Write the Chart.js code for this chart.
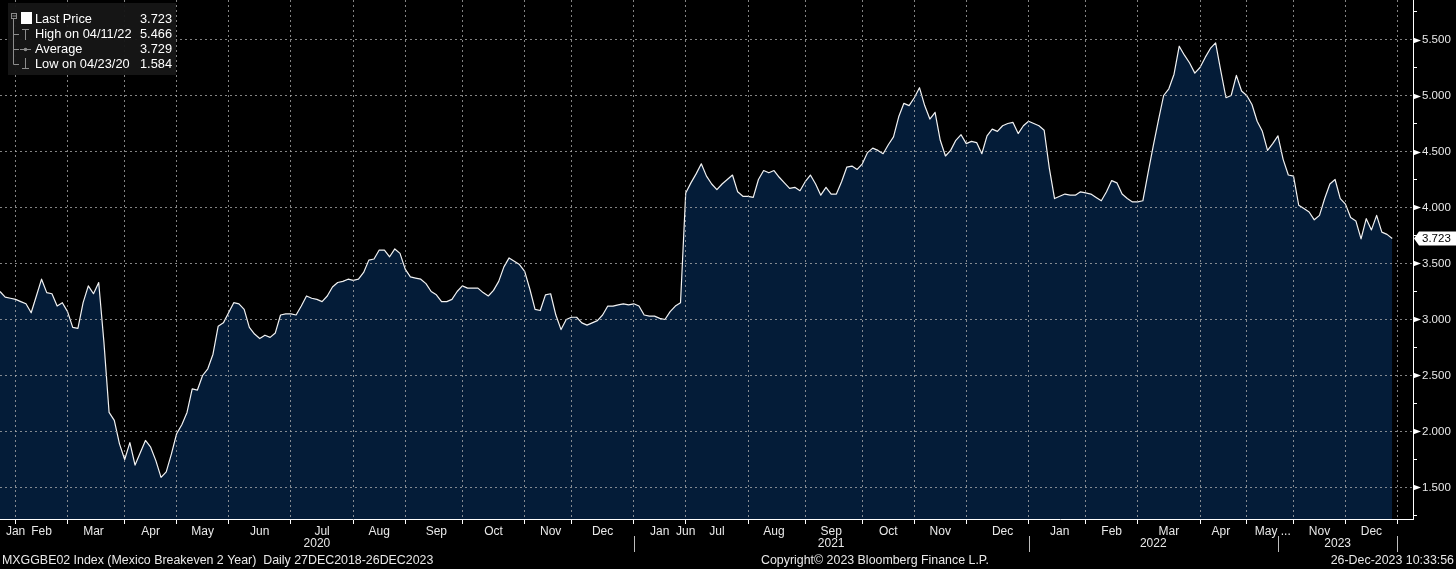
<!DOCTYPE html>
<html>
<head>
<meta charset="utf-8">
<script src="https://cdn.jsdelivr.net/npm/chart.js@4.4.1/dist/chart.umd.min.js"></script>
<style>
  html, body { margin: 0; padding: 0; background: #000; }
  #wrap { width: 1456px; height: 569px; position: relative; }
</style>
</head>
<body>
<div id="wrap"><canvas id="myChart"></canvas></div>
<script>
// MXGGBE02 Index, sampled roughly every 2 trading days (gaps in the series are collapsed, as on the terminal)
const values = [
  3.25, 3.20, 3.19, 3.18, 3.16, 3.14, 3.06, 3.21, 3.36, 3.24,
  3.23, 3.12, 3.15, 3.07, 2.93, 2.92, 3.15, 3.30, 3.23, 3.33,
  2.80, 2.17, 2.10, 1.89, 1.75, 1.90, 1.70, 1.81, 1.92, 1.86,
  1.74, 1.59, 1.64, 1.80, 1.98, 2.06, 2.17, 2.38, 2.37, 2.50,
  2.56, 2.69, 2.94, 2.97, 3.06, 3.15, 3.14, 3.09, 2.93, 2.87,
  2.83, 2.86, 2.84, 2.88, 3.04, 3.05, 3.05, 3.04, 3.12, 3.21,
  3.19, 3.18, 3.16, 3.21, 3.29, 3.33, 3.34, 3.36, 3.35, 3.36,
  3.42, 3.53, 3.54, 3.62, 3.62, 3.56, 3.63, 3.59, 3.45, 3.38,
  3.37, 3.36, 3.32, 3.25, 3.22, 3.16, 3.16, 3.18, 3.25, 3.30,
  3.28, 3.28, 3.28, 3.24, 3.21, 3.26, 3.34, 3.47, 3.55, 3.52,
  3.49, 3.43, 3.27, 3.09, 3.08, 3.22, 3.23, 3.04, 2.91, 3.00,
  3.02, 3.02, 2.97, 2.95, 2.97, 2.99, 3.04, 3.12, 3.12, 3.13,
  3.14, 3.13, 3.14, 3.12, 3.04, 3.03, 3.03, 3.01, 3.00, 3.07,
  3.12, 3.15, 4.13, 4.22, 4.30, 4.39, 4.28, 4.21, 4.16, 4.21,
  4.25, 4.29, 4.14, 4.10, 4.10, 4.09, 4.25, 4.33, 4.31, 4.33,
  4.27, 4.22, 4.17, 4.18, 4.15, 4.23, 4.29, 4.21, 4.11, 4.18,
  4.12, 4.12, 4.23, 4.36, 4.37, 4.34, 4.39, 4.49, 4.53, 4.51,
  4.48, 4.56, 4.63, 4.81, 4.93, 4.91, 4.98, 5.07, 4.91, 4.79,
  4.85, 4.60, 4.46, 4.51, 4.60, 4.65, 4.57, 4.59, 4.58, 4.48,
  4.64, 4.70, 4.68, 4.73, 4.75, 4.76, 4.66, 4.73, 4.77, 4.75,
  4.73, 4.69, 4.35, 4.08, 4.10, 4.12, 4.11, 4.11, 4.14, 4.13,
  4.12, 4.09, 4.06, 4.14, 4.24, 4.22, 4.12, 4.08, 4.05, 4.05,
  4.06, 4.31, 4.55, 4.78, 5.00, 5.06, 5.19, 5.44, 5.36, 5.29,
  5.20, 5.25, 5.34, 5.42, 5.47, 5.22, 4.98, 5.00, 5.18, 5.04,
  5.00, 4.92, 4.77, 4.68, 4.51, 4.57, 4.64, 4.43, 4.29, 4.28,
  4.02, 3.99, 3.96, 3.89, 3.93, 4.08, 4.21, 4.25, 4.08, 4.03,
  3.91, 3.88, 3.72, 3.90, 3.80, 3.93, 3.78, 3.76, 3.723
];
const sampleCount = 273; // axis runs a little past the last print

// month labels and the sample index they sit on
const monthNames = ['Jan','Feb','Mar','Apr','May','Jun','Jul','Aug','Sep','Oct','Nov','Dec',
                    'Jan','Jun','Jul','Aug','Sep','Oct','Nov','Dec',
                    'Jan','Feb','Mar','Apr','May ...','Nov','Dec'];
const monthLabelIdx = [3, 8, 18, 29, 39, 50, 62, 73, 84, 95, 106, 116,
                       127, 132, 138, 149, 160, 171, 181, 193,
                       204, 214, 225, 235, 245, 254, 264];
// month boundaries (dotted grid lines)
const monthEdgeIdx = [3, 13, 24, 34, 44, 56, 68, 78, 89, 101, 110, 122,
                      132, 144, 155, 166, 176, 186, 198,
                      209, 219, 231, 240, 249, 259, 269];
const yearNames = ['2020', '2021', '2022', '2023'];
const yearEdgeIdx = [0, 122, 198, 246, 269];

const yTicks = [1.25, 1.5, 1.75, 2, 2.25, 2.5, 2.75, 3, 3.25, 3.5, 3.75, 4, 4.25, 4.5, 4.75, 5, 5.25, 5.5, 5.75];

const legendLabels = ['Last Price', 'High on 04/11/22', 'Average', 'Low on 04/23/20'];
const legendValues = ['3.723', '5.466', '3.729', '1.584'];

const FONT = "'Liberation Sans', Arial, sans-serif";
const gridColor = 'rgba(175,175,175,0.75)';
const none = 'rgba(0,0,0,0)';
const edgeSet = new Set(monthEdgeIdx);
const monthAt = new Map(monthLabelIdx.map((k, j) => [k, monthNames[j]]));
const isMajor = v => Math.round(v * 100) % 50 === 0;

const labels = Array.from({length: sampleCount}, (_, i) => i);

const overlay = {
  id: 'overlay',
  afterDraw(chart) {
    const {ctx, chartArea: a, scales: {x, y}} = chart;
    ctx.save();

    // arrow heads on the major value ticks
    ctx.fillStyle = '#fff';
    yTicks.forEach(v => {
      if (!isMajor(v)) return;
      const py = Math.round(y.getPixelForValue(v)) + 0.5;
      ctx.beginPath();
      ctx.moveTo(a.right, py - 3);
      ctx.lineTo(a.right + 8, py);
      ctx.lineTo(a.right, py + 3);
      ctx.closePath();
      ctx.fill();
    });

    // last price tag
    const last = values[values.length - 1];
    const py = y.getPixelForValue(last);
    ctx.fillStyle = '#fff';
    ctx.beginPath();
    ctx.moveTo(a.right + 1, py);
    ctx.lineTo(a.right + 6, py - 7);
    ctx.lineTo(1456, py - 7);
    ctx.lineTo(1456, py + 7);
    ctx.lineTo(a.right + 6, py + 7);
    ctx.closePath();
    ctx.fill();
    ctx.fillStyle = '#000';
    ctx.font = '11.5px ' + FONT;
    ctx.textAlign = 'left';
    ctx.textBaseline = 'middle';
    ctx.fillText(last.toFixed(3), a.right + 9, py + 0.5);

    // year row
    ctx.fillStyle = '#e8e8e8';
    ctx.strokeStyle = '#bdbdbd';
    ctx.lineWidth = 1;
    ctx.textAlign = 'center';
    ctx.font = '12px ' + FONT;
    for (let k = 0; k < yearNames.length; k++) {
      const x0 = x.getPixelForValue(yearEdgeIdx[k]);
      const x1 = x.getPixelForValue(yearEdgeIdx[k + 1]);
      ctx.fillText(yearNames[k], (x0 + x1) / 2, 544);
      const sx = Math.round(x1) + 0.5;
      ctx.beginPath();
      ctx.moveTo(sx, 536);
      ctx.lineTo(sx, 552);
      ctx.stroke();
    }

    // footer
    ctx.font = '12.4px ' + FONT;
    ctx.textAlign = 'left';
    ctx.fillText('MXGGBE02 Index (Mexico Breakeven 2 Year)  Daily 27DEC2018-26DEC2023', 2, 561);
    ctx.fillText('Copyright\u00a9 2023 Bloomberg Finance L.P.', 761, 561);
    ctx.textAlign = 'right';
    ctx.fillText('26-Dec-2023 10:33:56', 1454, 561);

    // legend box
    ctx.fillStyle = 'rgba(22,22,22,0.96)';
    ctx.fillRect(8, 3, 168, 72);
    ctx.strokeStyle = '#8c8c8c';
    ctx.fillStyle = '#8c8c8c';
    ctx.lineWidth = 1;
    ctx.strokeRect(11.5, 13.5, 5, 5);
    ctx.beginPath();
    ctx.moveTo(12.5, 16); ctx.lineTo(16, 16);
    ctx.moveTo(13.5, 19); ctx.lineTo(13.5, 64.5);
    [34.5, 49.5, 64.5].forEach(ry => { ctx.moveTo(13.5, ry); ctx.lineTo(19, ry); });
    // high marker
    ctx.moveTo(25.5, 29); ctx.lineTo(25.5, 40);
    ctx.moveTo(22, 29.5); ctx.lineTo(29, 29.5);
    // average marker
    ctx.moveTo(20, 49.5); ctx.lineTo(31, 49.5);
    // low marker
    ctx.moveTo(25.5, 58); ctx.lineTo(25.5, 69);
    ctx.moveTo(22, 68.5); ctx.lineTo(29, 68.5);
    ctx.stroke();
    ctx.beginPath();
    ctx.arc(25.5, 49.5, 1.8, 0, Math.PI * 2);
    ctx.fill();
    ctx.fillStyle = '#fff';
    ctx.fillRect(21, 12, 11, 12);
    ctx.font = '12.8px ' + FONT;
    ctx.textBaseline = 'middle';
    legendLabels.forEach((t, k) => {
      const ry = 19 + k * 15;
      ctx.textAlign = 'left';
      ctx.fillText(t, 35, ry);
      ctx.textAlign = 'right';
      ctx.fillText(legendValues[k], 172, ry);
    });

    ctx.restore();
  }
};

const config = {
  type: 'line',
  data: {
    labels: labels,
    datasets: [{
      data: values,
      borderColor: '#f2f2f2',
      borderWidth: 1.2,
      backgroundColor: '#041c38',
      fill: 'start',
      pointRadius: 0,
      tension: 0,
      borderJoinStyle: 'round'
    }]
  },
  options: {
    responsive: true,
    maintainAspectRatio: false,
    animation: false,
    events: [],
    layout: { padding: 0 },
    plugins: { legend: { display: false }, tooltip: { enabled: false } },
    scales: {
      x: {
        type: 'category',
        offset: false,
        afterFit(scale) {
          scale.height = 50;
          scale.paddingLeft = 0;
          scale.paddingRight = 0;
        },
        border: { color: '#ffffff', width: 1, dash: [2, 3], z: 2 },
        grid: {
          z: 1,
          color: c => edgeSet.has(c.index) ? gridColor : none,
          tickColor: c => edgeSet.has(c.index) ? '#ffffff' : none,
          tickLength: 5,
          lineWidth: 1
        },
        ticks: {
          autoSkip: false,
          maxRotation: 0,
          minRotation: 0,
          padding: 0,
          color: '#e8e8e8',
          font: { family: FONT, size: 12 },
          callback: (v, i) => monthAt.get(i) || ''
        }
      },
      y: {
        position: 'right',
        min: 1.2187,
        max: 5.8527,
        afterBuildTicks(scale) {
          scale.ticks = yTicks.map(v => ({ value: v }));
        },
        afterFit(scale) {
          scale.width = 43;
          scale.paddingTop = 0;
          scale.paddingBottom = 0;
        },
        border: { color: '#ffffff', width: 1, dash: [2, 3], z: 2 },
        grid: {
          z: 1,
          color: c => (c.tick && isMajor(c.tick.value)) ? gridColor : none,
          tickColor: '#ffffff',
          tickLength: 4,
          lineWidth: 1
        },
        ticks: {
          padding: 5,
          color: '#e8e8e8',
          font: { family: FONT, size: 11.5 },
          callback: v => isMajor(v) ? v.toFixed(3) : ''
        }
      }
    }
  },
  plugins: [overlay]
};

const myChart = new Chart(document.getElementById('myChart'), config);
</script>
</body>
</html>
